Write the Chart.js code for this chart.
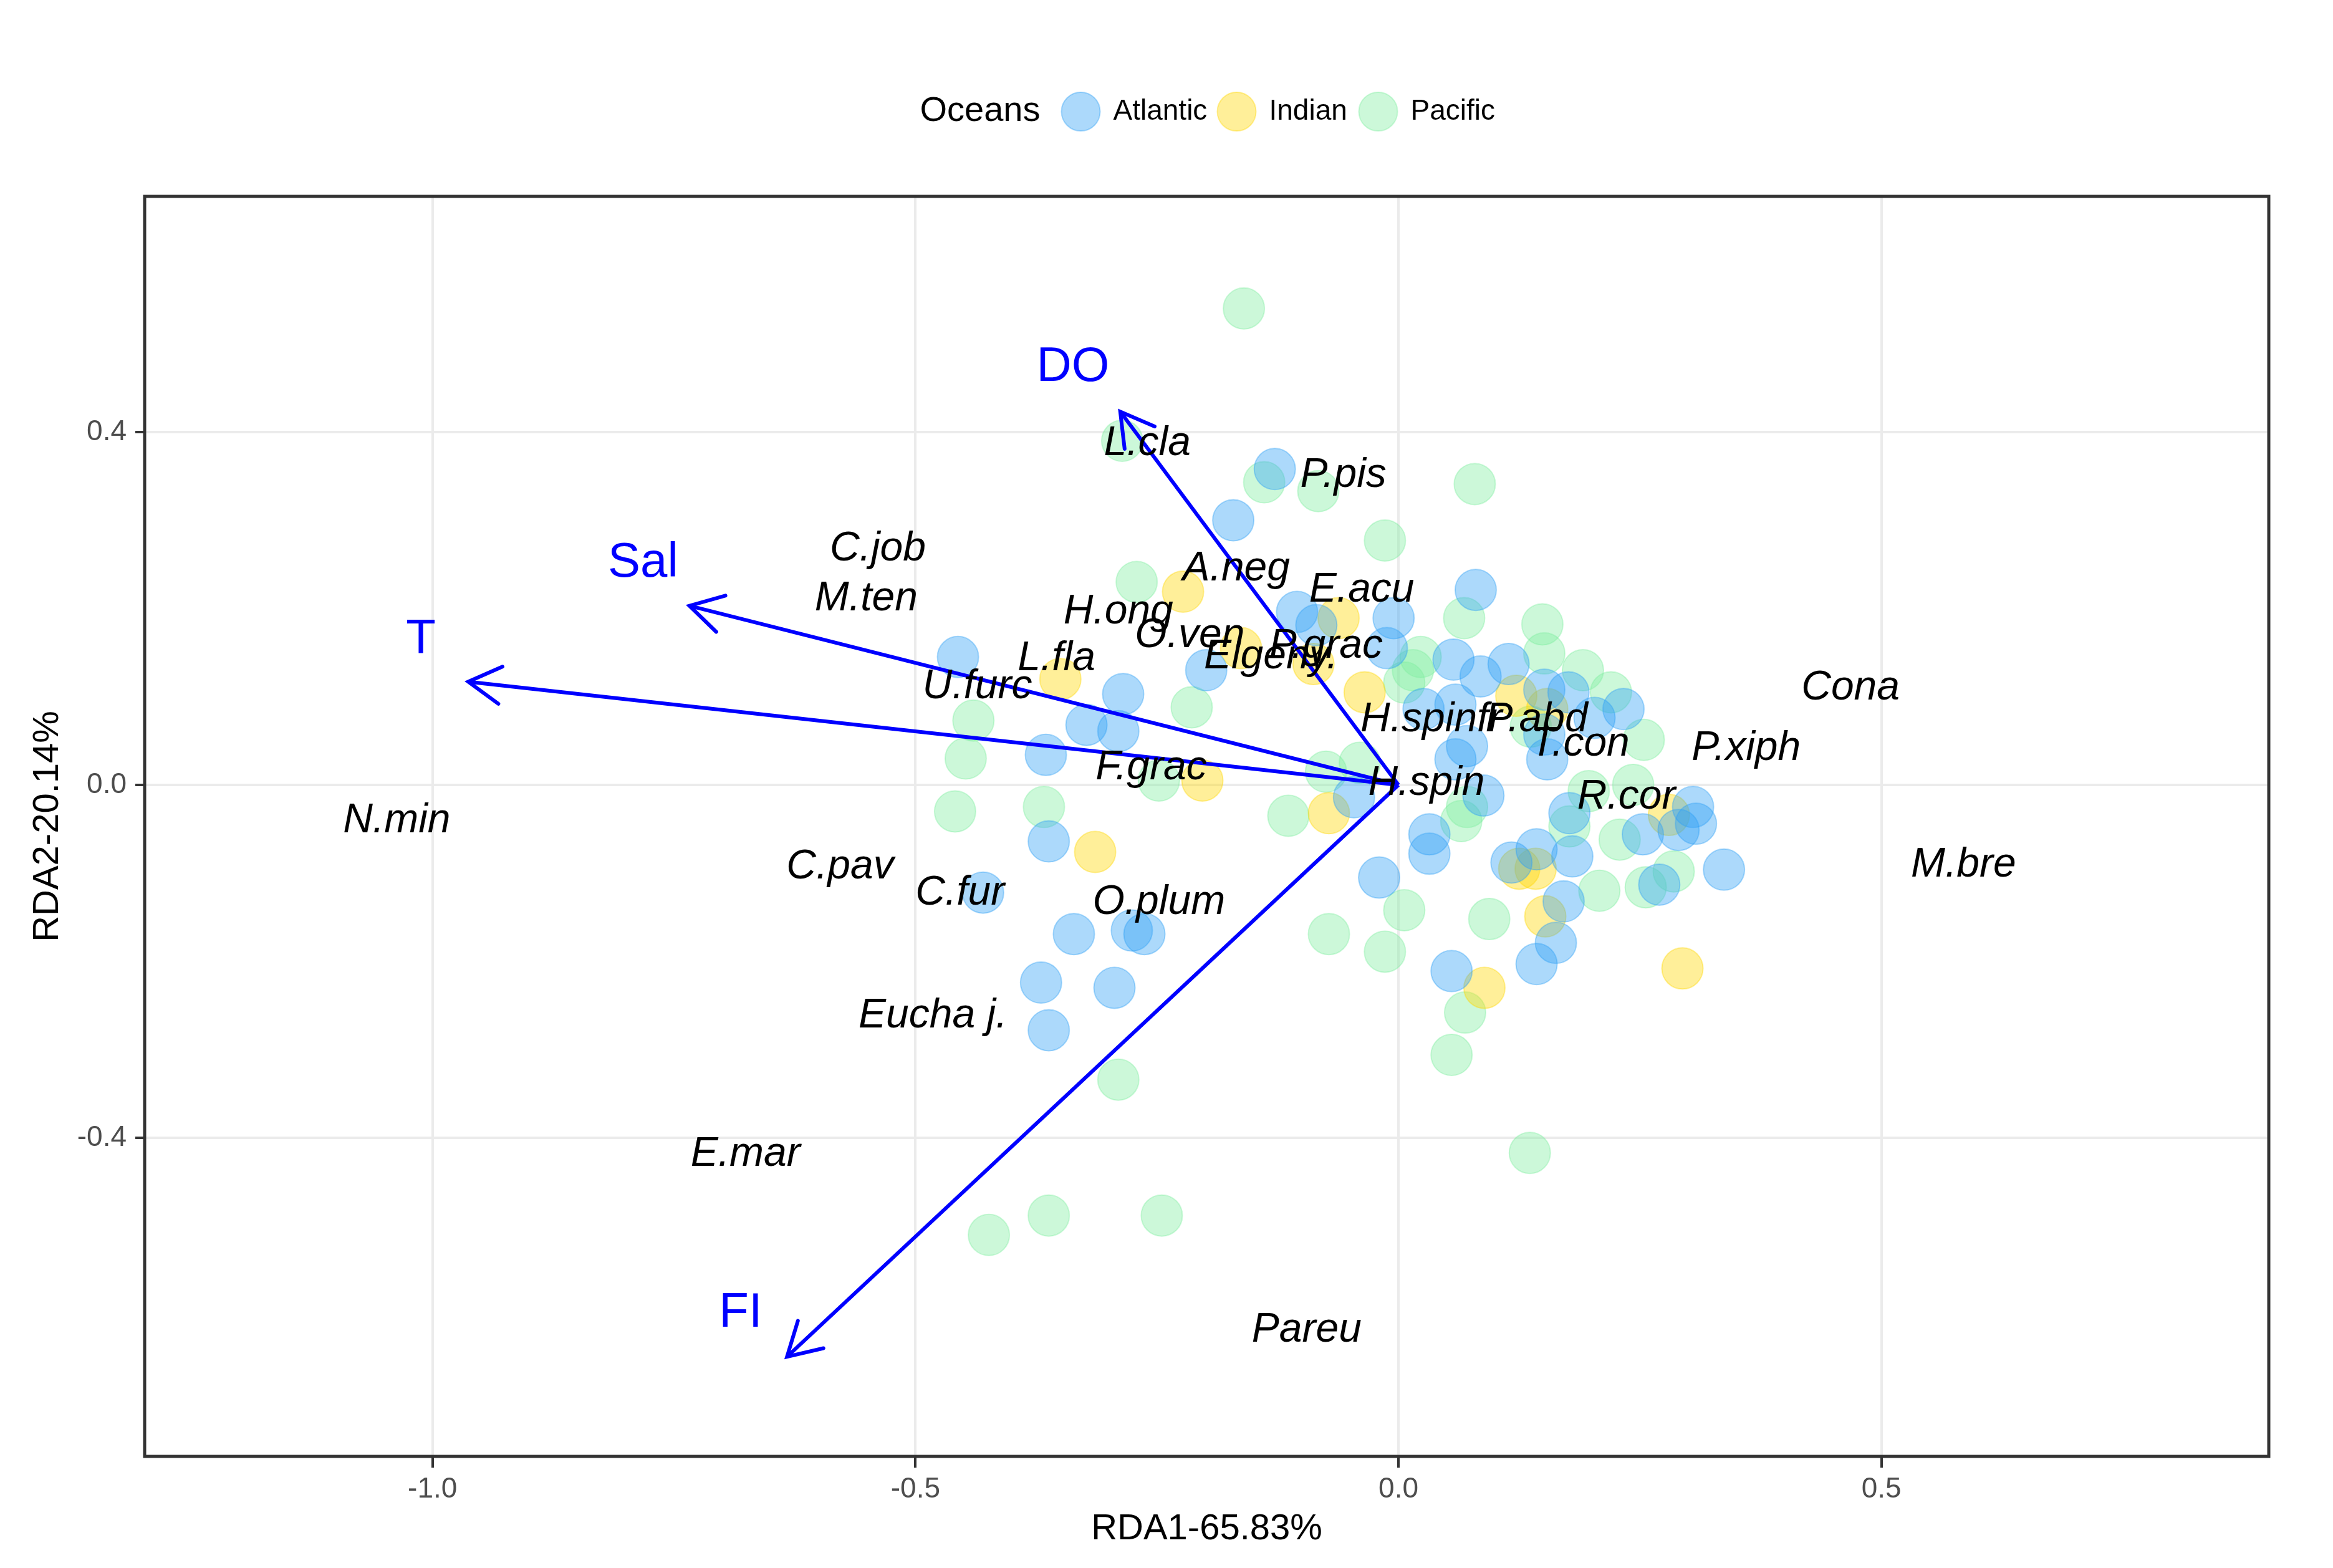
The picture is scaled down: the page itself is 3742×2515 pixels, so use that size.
<!DOCTYPE html>
<html>
<head>
<meta charset="utf-8">
<title>RDA biplot - Oceans</title>
<script src="https://cdn.jsdelivr.net/npm/chart.js@4.4.1/dist/chart.umd.min.js"></script>
<style>
    html, body { margin: 0; padding: 0; background: #ffffff; }
    canvas { display: block; }
</style>
</head>
<body>
<canvas id="rdaChart" width="3742" height="2515" style="width:3742px;height:2515px"></canvas>
<script>
// Sample scores (RDA1, RDA2)
const atlanticX = [-0.128, -0.171, 0.080, -0.105, -0.085, -0.005, -0.012, -0.199, -0.456, -0.285,
    0.057, 0.085, 0.114, -0.323, -0.290, 0.026, 0.059, 0.151, 0.176, 0.233,
    0.203, 0.071, 0.059, 0.154, 0.151, -0.365, -0.046, 0.088, 0.032, 0.032,
    -0.020, 0.055, 0.143, 0.163, 0.171, 0.117, 0.143, 0.180, 0.177, 0.270,
    0.337, 0.253, 0.305, 0.308, 0.290, -0.362, -0.430, -0.336, -0.276, -0.263,
    -0.370, -0.294, -0.362];
const atlanticY = [0.358, 0.300, 0.221, 0.196, 0.181, 0.189, 0.155, 0.130, 0.145, 0.103,
    0.142, 0.123, 0.137, 0.068, 0.061, 0.086, 0.091, 0.108, 0.105, 0.086,
    0.076, 0.044, 0.029, 0.029, 0.057, 0.034, -0.014, -0.012, -0.056, -0.078,
    -0.105, -0.211, -0.203, -0.179, -0.132, -0.088, -0.073, -0.081, -0.032, -0.113,
    -0.096, -0.056, -0.025, -0.044, -0.051, -0.064, -0.122, -0.169, -0.165, -0.169,
    -0.224, -0.230, -0.278];

const indianX = [-0.223, -0.062, -0.163, -0.088, -0.350, -0.035, 0.122, 0.154, -0.203, -0.314,
    -0.072, 0.280, 0.125, 0.142, 0.152, 0.089, 0.294];
const indianY = [0.219, 0.189, 0.155, 0.137, 0.120, 0.105, 0.101, 0.086, 0.005, -0.076,
    -0.032, -0.034, -0.095, -0.095, -0.149, -0.230, -0.208];

const pacificX = [-0.160, -0.286, -0.139, -0.083, 0.079, -0.014, -0.271, 0.068, 0.149, -0.214,
    0.015, 0.006, 0.151, 0.191, 0.220, 0.254, 0.137, -0.040, 0.071, 0.065,
    0.006, 0.094, -0.014, 0.208, 0.256, 0.285, 0.229, 0.243, 0.197, 0.177,
    -0.440, -0.448, -0.248, -0.459, -0.367, -0.290, -0.114, -0.075, -0.072, 0.055,
    0.069, 0.136, -0.424, -0.362, -0.245, 0.023];
const pacificY = [0.540, 0.390, 0.343, 0.333, 0.341, 0.277, 0.230, 0.189, 0.182, 0.088,
    0.130, 0.116, 0.149, 0.130, 0.105, 0.051, 0.066, 0.025, -0.025, -0.041,
    -0.142, -0.152, -0.189, -0.120, -0.116, -0.098, -0.062, 0.000, -0.007, -0.047,
    0.073, 0.030, 0.005, -0.030, -0.025, -0.334, -0.035, 0.015, -0.169, -0.306,
    -0.258, -0.417, -0.510, -0.488, -0.488, 0.145];

// Species scores (labels only)
const speciesNames = ['L.cla', 'P.pis', 'C.job', 'M.ten', 'A.neg', 'E.acu', 'H.ong', 'O.ven', 'P.grac', 'Elgeny.',
    'L.fla', 'U.furc', 'H.spinfr', 'P.abd', 'T.con', 'P.xiph', 'Cona', 'H.spin', 'R.cor', 'F.grac',
    'N.min', 'C.pav', 'C.fur', 'O.plum', 'M.bre', 'Eucha j.', 'E.mar', 'Pareu'];
const speciesX = [-0.260, -0.057, -0.539, -0.551, -0.168, -0.038, -0.290, -0.216, -0.075, -0.132,
    -0.354, -0.436, 0.034, 0.143, 0.188, 0.360, 0.468, 0.029, 0.236, -0.256,
    -1.037, -0.578, -0.454, -0.248, 0.585, -0.482, -0.676, -0.095];
const speciesY = [0.387, 0.351, 0.267, 0.211, 0.245, 0.221, 0.196, 0.169, 0.157, 0.145,
    0.143, 0.111, 0.074, 0.074, 0.046, 0.041, 0.110, 0.002, -0.014, 0.019,
    -0.041, -0.093, -0.123, -0.133, -0.091, -0.262, -0.419, -0.618];

// Environmental arrows
const envNames = ['DO', 'Sal', 'T', 'FI'];
const envX = [-0.288, -0.734, -0.963, -0.633];
const envY = [0.423, 0.203, 0.117, -0.648];
const envLabelX = [-0.337, -0.782, -1.012, -0.681];
const envLabelY = [0.473, 0.251, 0.164, -0.599];

const xTicks = [-1.0, -0.5, 0.0, 0.5];
const yTicks = [-0.4, 0.0, 0.4];

const oceans = ['Atlantic', 'Indian', 'Pacific'];
const oceanColors = ['rgba(48, 160, 245, 0.4)', 'rgba(255, 215, 0, 0.4)', 'rgba(127, 238, 159, 0.4)'];

const FONT = "'Liberation Sans', Arial, Helvetica, sans-serif";

function toPoints(xs, ys) {
    return xs.map((x, i) => ({ x: x, y: ys[i] }));
}

function pointDataset(i, xs, ys) {
    return {
        type: 'scatter',
        label: oceans[i],
        data: toPoints(xs, ys),
        backgroundColor: oceanColors[i],
        borderColor: oceanColors[i],
        borderWidth: 2,
        pointRadius: 33,
        order: 2
    };
}

function arrowDataset(i) {
    return {
        type: 'scatter',
        label: envNames[i],
        data: [{ x: 0, y: 0 }, { x: envX[i], y: envY[i] }],
        showLine: true,
        borderColor: '#0000ff',
        borderWidth: 6,
        pointRadius: 0,
        order: 1
    };
}

// arrow heads, text labels, panel border
const overlayPlugin = {
    id: 'overlay',
    afterDatasetsDraw(chart) {
        const ctx = chart.ctx;
        const xs = chart.scales.x, ys = chart.scales.y;
        ctx.save();

        ctx.strokeStyle = '#0000ff';
        ctx.lineWidth = 6;
        ctx.lineCap = 'round';
        envNames.forEach((n, i) => {
            const x0 = xs.getPixelForValue(0), y0 = ys.getPixelForValue(0);
            const x1 = xs.getPixelForValue(envX[i]), y1 = ys.getPixelForValue(envY[i]);
            const ang = Math.atan2(y1 - y0, x1 - x0);
            const len = 60, spread = Math.PI / 6;
            ctx.beginPath();
            ctx.moveTo(x1 - len * Math.cos(ang - spread), y1 - len * Math.sin(ang - spread));
            ctx.lineTo(x1, y1);
            ctx.lineTo(x1 - len * Math.cos(ang + spread), y1 - len * Math.sin(ang + spread));
            ctx.stroke();
        });

        ctx.textAlign = 'center';
        ctx.textBaseline = 'middle';
        ctx.fillStyle = '#000000';
        ctx.font = 'italic 66px ' + FONT;
        speciesNames.forEach((n, i) => {
            ctx.fillText(n, xs.getPixelForValue(speciesX[i]), ys.getPixelForValue(speciesY[i]));
        });

        ctx.fillStyle = '#0000ff';
        ctx.font = '78px ' + FONT;
        envNames.forEach((n, i) => {
            ctx.fillText(n, xs.getPixelForValue(envLabelX[i]), ys.getPixelForValue(envLabelY[i]));
        });

        const a = chart.chartArea;
        ctx.strokeStyle = '#333333';
        ctx.lineWidth = 5;
        ctx.strokeRect(a.left, a.top, a.right - a.left, a.bottom - a.top);
        ctx.restore();
    }
};

// ggplot style legend: title on the left, keys in one row
const legendPlugin = {
    id: 'oceanLegend',
    afterDraw(chart) {
        const ctx = chart.ctx;
        const a = chart.chartArea;
        const cx = (a.left + a.right) / 2;
        const y = 179;
        ctx.save();
        ctx.textBaseline = 'middle';
        ctx.textAlign = 'left';
        ctx.fillStyle = '#000000';
        ctx.font = '56px ' + FONT;
        ctx.fillText('Oceans', cx - 460, y);

        const keyX = [cx - 202, cx + 48, cx + 275];
        ctx.font = '46px ' + FONT;
        oceans.forEach((o, i) => {
            ctx.beginPath();
            ctx.arc(keyX[i], y, 31, 0, Math.PI * 2);
            ctx.fillStyle = oceanColors[i];
            ctx.fill();
            ctx.strokeStyle = oceanColors[i];
            ctx.lineWidth = 2;
            ctx.stroke();
            ctx.fillStyle = '#000000';
            ctx.fillText(o, keyX[i] + 52, y);
        });
        ctx.restore();
    }
};

function buildChart() {
    const ctx = document.getElementById('rdaChart').getContext('2d');
    new Chart(ctx, {
        type: 'scatter',
        data: {
            datasets: [
                arrowDataset(0), arrowDataset(1), arrowDataset(2), arrowDataset(3),
                pointDataset(0, atlanticX, atlanticY),
                pointDataset(1, indianX, indianY),
                pointDataset(2, pacificX, pacificY)
            ]
        },
        options: {
            responsive: false,
            animation: false,
            devicePixelRatio: 1,
            events: [],
            layout: { padding: { left: 0, right: 103, top: 315, bottom: 0 } },
            plugins: {
                legend: { display: false },
                tooltip: { enabled: false }
            },
            scales: {
                x: {
                    type: 'linear',
                    min: -1.298,
                    max: 0.901,
                    afterBuildTicks: (scale) => { scale.ticks = xTicks.map(v => ({ value: v })); },
                    afterFit: (scale) => { scale.height = 179; },
                    grid: { color: '#ebebeb', lineWidth: 4, tickColor: '#333333', tickWidth: 4, tickLength: 18 },
                    border: { display: false },
                    ticks: {
                        color: '#4d4d4d',
                        padding: 8,
                        font: { family: FONT, size: 46 },
                        callback: (v) => Number(v).toFixed(1)
                    },
                    title: {
                        display: true,
                        text: 'RDA1-65.83%',
                        color: '#000000',
                        font: { family: FONT, size: 58 },
                        padding: { top: 0, bottom: 27 }
                    }
                },
                y: {
                    type: 'linear',
                    min: -0.761,
                    max: 0.667,
                    afterBuildTicks: (scale) => { scale.ticks = yTicks.map(v => ({ value: v })); },
                    afterFit: (scale) => { scale.width = 232; },
                    grid: { color: '#ebebeb', lineWidth: 4, tickColor: '#333333', tickWidth: 4, tickLength: 15 },
                    border: { display: false },
                    ticks: {
                        color: '#4d4d4d',
                        padding: 14,
                        font: { family: FONT, size: 46 },
                        callback: (v) => Number(v).toFixed(1)
                    },
                    title: {
                        display: true,
                        text: 'RDA2-20.14%',
                        color: '#000000',
                        font: { family: FONT, size: 58 },
                        padding: { top: 42, bottom: 0 }
                    }
                }
            }
        },
        plugins: [overlayPlugin, legendPlugin]
    });
}

document.addEventListener('DOMContentLoaded', buildChart);
</script>
</body>
</html>
